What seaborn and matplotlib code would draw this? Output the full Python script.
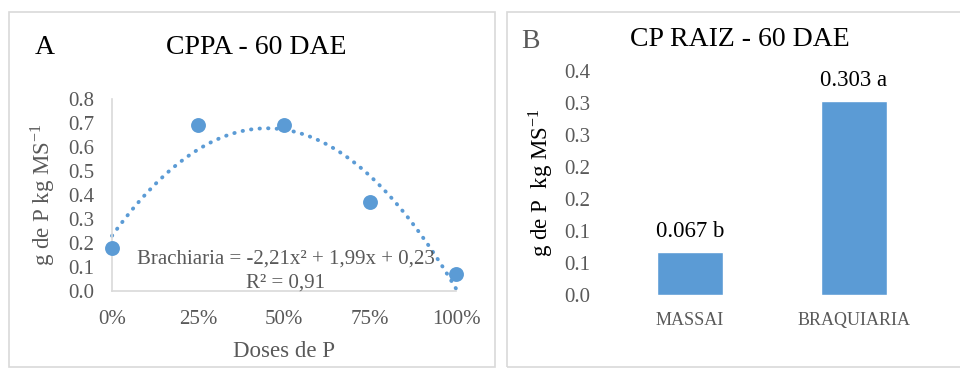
import numpy as np
import pandas as pd
import matplotlib
matplotlib.use("Agg")
import matplotlib.pyplot as plt
from matplotlib.patches import Rectangle
import seaborn as sns

# ---- data ----
doses = [0.0, 0.25, 0.50, 0.75, 1.0]
dose_labels = ["0%", "25%", "50%", "75%", "100%"]
cppa_values = [0.18, 0.69, 0.69, 0.37, 0.07]
trend_coefs = [-2.21, 1.99, 0.23]   # Brachiaria = a x^2 + b x + c
a_yticks = [0.0, 0.1, 0.2, 0.3, 0.4, 0.5, 0.6, 0.7, 0.8]
a_ytick_labels = ["0.0", "0.1", "0.2", "0.3", "0.4", "0.5", "0.6", "0.7", "0.8"]

categories = ["MASSAI", "BRAQUIARIA"]
raiz_values = [0.067, 0.303]
raiz_labels = ["0.067 b", "0.303 a"]
b_yticks = [0.0, 0.05, 0.10, 0.15, 0.20, 0.25, 0.30, 0.35]
b_ytick_labels = ["0.0", "0.1", "0.1", "0.2", "0.2", "0.3", "0.3", "0.4"]

sns.set_theme(style="white")
plt.rcParams["font.family"] = ["Liberation Serif", "DejaVu Serif"]
plt.rcParams["mathtext.fontset"] = "stix"

BLUE = "#5B9BD5"
GRAY = "#595959"
LIGHT = "#D9D9D9"

fig = plt.figure(figsize=(9.6, 3.69), dpi=100)
W, H = 960, 369

def fx(px):
    return px / W

def fy(py):
    return 1 - py / H

# panel borders
fig.patches.append(Rectangle((fx(9), fy(367)), fx(495) - fx(9), fy(12) - fy(367),
                             transform=fig.transFigure, fill=False, ec=LIGHT, lw=1.2))
fig.patches.append(Rectangle((fx(507), fy(367)), fx(965) - fx(507), fy(12) - fy(367),
                             transform=fig.transFigure, fill=False, ec=LIGHT, lw=1.2))

# ---- panel A ----
axA = fig.add_axes([fx(112), fy(291), fx(456) - fx(112), fy(99) - fy(291)])
dfA = pd.DataFrame({"dose": doses, "valor": cppa_values})
xs = np.linspace(0, 1, 200)
ys = np.polyval(trend_coefs, xs)
dfT = pd.DataFrame({"x": xs, "y": ys})
sns.lineplot(data=dfT, x="x", y="y", ax=axA, color=BLUE, lw=2.8,
             linestyle=(0, (0.1, 2.1)), dash_capstyle="round", clip_on=False)
sns.scatterplot(data=dfA, x="dose", y="valor", ax=axA, color=BLUE, s=115,
                edgecolor=BLUE, linewidth=0, zorder=5, clip_on=False)
axA.set_xlim(0, 1)
axA.set_ylim(0, 0.8)
axA.set_xticks(doses)
axA.set_xticklabels(dose_labels)
axA.set_yticks(a_yticks)
axA.set_yticklabels(a_ytick_labels)
axA.tick_params(axis="both", labelsize=15, colors=GRAY, length=0)
axA.tick_params(axis="y", pad=13)
axA.tick_params(axis="x", pad=14)
for s in ["top", "right"]:
    axA.spines[s].set_visible(False)
for s in ["left", "bottom"]:
    axA.spines[s].set_color(LIGHT)
    axA.spines[s].set_linewidth(1.2)
axA.set_xlabel("Doses de P", fontsize=16.5, color=GRAY, labelpad=8)
axA.set_ylabel(r"g de P kg MS$^{\mathregular{-1}}$", fontsize=16.5, color=GRAY, labelpad=8)
axA.patch.set_alpha(0)
fig.text(fx(256), fy(48), "CPPA - 60 DAE", fontsize=20, ha="center", va="center", color="black")
fig.text(fx(45), fy(48), "A", fontsize=20, ha="center", va="center", color="black")
fig.text(fx(286), fy(259), "Brachiaria = -2,21x² + 1,99x + 0,23", fontsize=15,
         ha="center", va="center", color=GRAY)
fig.text(fx(286), fy(283), "R² = 0,91", fontsize=15, ha="center", va="center", color=GRAY)

# ---- panel B ----
axB = fig.add_axes([fx(608), fy(295), fx(936) - fx(608), fy(71) - fy(295)])
dfB = pd.DataFrame({"cat": categories, "valor": raiz_values})
sns.barplot(data=dfB, x="cat", y="valor", ax=axB, color=BLUE, width=0.4,
            saturation=1, errorbar=None)
axB.set_xlim(-0.5, 1.5)
axB.set_ylim(0, 0.35)
axB.set_yticks(b_yticks)
axB.set_yticklabels(b_ytick_labels)
axB.tick_params(axis="both", colors=GRAY, length=0)
axB.tick_params(axis="y", labelsize=15, pad=13)
axB.tick_params(axis="x", labelsize=13, pad=12)
for s in axB.spines.values():
    s.set_visible(False)
axB.set_xlabel("")
axB.set_ylabel(r"g de P  kg MS$^{\mathregular{-1}}$", fontsize=16.5, color="black", labelpad=6)
for i, (v, lab) in enumerate(zip(raiz_values, raiz_labels)):
    axB.annotate(lab, (i, v), xytext=(0, 7), textcoords="offset points",
                 ha="center", va="bottom", fontsize=16.5, color="black")
axB.patch.set_alpha(0)
fig.text(fx(740), fy(39), "CP RAIZ - 60 DAE", fontsize=20, ha="center", va="center", color="black")
fig.text(fx(530), fy(42), "B", fontsize=20, ha="center", va="center", color=GRAY)

fig.savefig("out.png", dpi=100)
